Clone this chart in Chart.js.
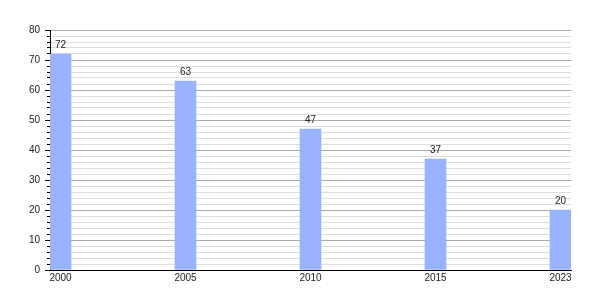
<!DOCTYPE html>
<html>
<head>
<meta charset="utf-8">
<script src="https://cdn.jsdelivr.net/npm/chart.js@4"></script>
<style>
  html, body { margin: 0; padding: 0; background: #fff; }
  #wrap { width: 600px; height: 300px; }
</style>
</head>
<body>
<div id="wrap"><canvas id="myChart"></canvas></div>
<script>
const years = ['2000', '2005', '2010', '2015', '2023'];
const values = [72, 63, 47, 37, 20];
const yTicks = { min: 0, max: 80, step: 2, major: 10 };

Chart.defaults.font.family = 'Arial, "Liberation Sans", sans-serif';
Chart.defaults.font.size = 10;
Chart.defaults.color = '#222';

// value labels above the bars
const barLabels = {
  id: 'barLabels',
  afterDatasetsDraw(chart) {
    const ctx = chart.ctx;
    const meta = chart.getDatasetMeta(0);
    ctx.save();
    ctx.font = '10px Arial, "Liberation Sans", sans-serif';
    ctx.fillStyle = '#222';
    ctx.textAlign = 'center';
    ctx.textBaseline = 'alphabetic';
    meta.data.forEach((bar, i) => {
      ctx.fillText(values[i], bar.x, bar.y - 6);
    });
    ctx.restore();
  }
};

const isMajor = (v) => v % yTicks.major === 0;

new Chart(document.getElementById('myChart'), {
  type: 'bar',
  data: {
    datasets: [{
      data: values.map((v, i) => ({ x: i, y: v })),
      backgroundColor: '#99b3ff',
      borderWidth: 0,
      barThickness: 21
    }]
  },
  options: {
    responsive: true,
    maintainAspectRatio: false,
    animation: false,
    layout: { padding: { top: 30, right: 29, left: 0, bottom: 0 } },
    plugins: {
      legend: { display: false },
      tooltip: { enabled: false }
    },
    scales: {
      x: {
        type: 'linear',
        offset: false,
        min: -0.084,
        max: years.length - 1 + 0.084,
        grid: { display: false, drawTicks: false },
        border: { display: true, color: '#000', width: 1 },
        afterBuildTicks: (axis) => {
          axis.ticks = years.map((y, i) => ({ value: i }));
        },
        afterFit: (axis) => { axis.height = 30; },
        ticks: {
          padding: 2,
          maxRotation: 0,
          autoSkip: false,
          callback: (v) => years[v]
        }
      },
      y: {
        min: yTicks.min,
        max: yTicks.max,
        afterFit: (axis) => { axis.width = 50; },
        border: { display: true, color: '#000', width: 1 },
        grid: {
          color: (c) => isMajor(c.tick.value) ? '#aaaaaa' : '#dddddd',
          tickColor: '#000',
          tickLength: 5,
          tickBorderDash: (c) => isMajor(c.tick.value) ? [] : [0, 2, 10]
        },
        ticks: {
          stepSize: yTicks.step,
          autoSkip: false,
          padding: 5,
          callback: (v) => isMajor(v) ? v : ''
        }
      }
    }
  },
  plugins: [barLabels]
});
</script>
</body>
</html>
